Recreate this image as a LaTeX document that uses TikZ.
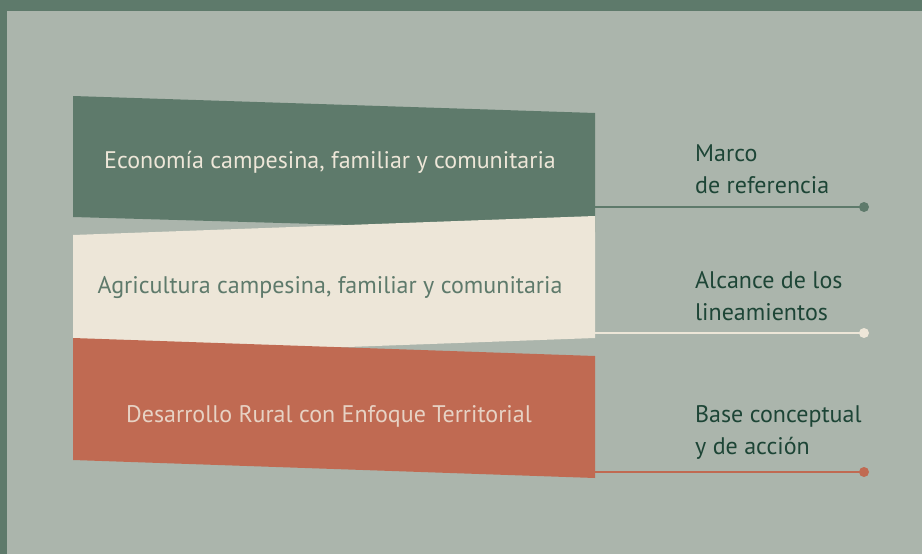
\documentclass[tikz,border=0pt]{standalone}
\usepackage{fontspec}
\setmainfont{PT Sans}
\usepackage{tikz}
\usetikzlibrary{positioning}

\definecolor{framegreen}{HTML}{5E7A6B}
\definecolor{paper}{HTML}{ABB5AC}
\definecolor{cream}{HTML}{EDE6D8}
\definecolor{brick}{HTML}{C06A52}
\definecolor{ink}{HTML}{1D4536}

\tikzset{
	bandtext/.style={font=\fontsize{24}{28}\selectfont, inner sep=0pt, anchor=base},
	sidetext/.style={font=\fontsize{24}{31.5}\selectfont, text=ink, align=left, inner sep=0pt, anchor=base west},
	leader/.style={line width=2.5pt},
	enddot/.style={circle, inner sep=0pt, minimum size=10pt}
}

\begin{document}
\begin{tikzpicture}[x=1pt,y=-1pt]
	% frame
	\fill[framegreen] (0,0) rectangle (922,554);
	\fill[paper] (7,11) rectangle (922,554);
	\useasboundingbox (0,0) rectangle (922,554);

	% top band
	\fill[framegreen] (73,96) -- (595,113) -- (595,232) -- (73,217) -- cycle;
	% middle band
	\fill[cream] (73,235) -- (595,216) -- (595,338) -- (73,357) -- cycle;
	% bottom band
	\fill[brick] (73,338) -- (595,356) -- (595,478) -- (73,460) -- cycle;

	% band texts
	\node[bandtext, text=cream] (eco) at (330,168) {Economía campesina, familiar y comunitaria};
	\node[bandtext, text=framegreen] (agri) at (330,293) {Agricultura campesina, familiar y comunitaria};
	\node[bandtext, text=cream!80!brick!90!white] (drt) at (329,422) {Desarrollo Rural con Enfoque Territorial};

	% leaders
	\coordinate (ecoend) at (595,207);
	\coordinate (agriend) at (595,333);
	\coordinate (drtend) at (595,472);
	\node[enddot, fill=framegreen] (ecodot) at (864,207) {};
	\node[enddot, fill=cream] (agridot) at (864,333) {};
	\node[enddot, fill=brick] (drtdot) at (864,472) {};
	\draw[leader, framegreen] (ecoend) -- (ecodot.center);
	\draw[leader, cream] (agriend) -- (agridot.center);
	\draw[leader, brick] (drtend) -- (drtdot.center);

	% side labels
	\node[sidetext] (marco) at (695,193) {Marco\\de referencia};
	\node[sidetext] (alcance) at (695,320) {Alcance de los\\lineamientos};
	\node[sidetext] (base) at (695,454) {Base conceptual\\y de acción};
\end{tikzpicture}
\end{document}
